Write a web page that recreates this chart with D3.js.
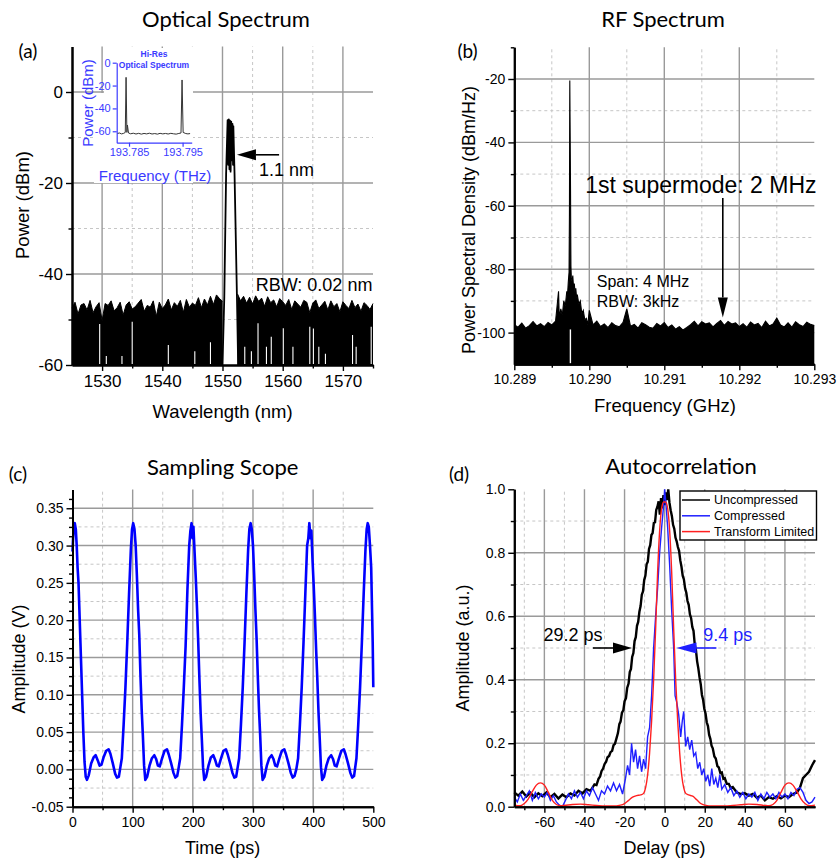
<!DOCTYPE html>
<html>
<head>
<meta charset="utf-8">
<script src="https://cdn.jsdelivr.net/npm/d3@7"></script>
<style>body{margin:0;background:#fff}</style>
</head>
<body>
<svg id="fig" width="838" height="861"></svg>
<script>
// ---------- (a) optical spectrum ----------
const optLeftWl = [1525,1525.5,1526,1526.5,1527,1527.5,1528,1528.5,1529,1529.5,1530,1530.5,1531,1531.5,1532,1532.5,1533,1533.5,1534,1534.5,1535,1535.5,1536,1536.5,1537,1537.5,1538,1538.5,1539,1539.5,1540,1540.5,1541,1541.5,1542,1542.5,1543,1543.5,1544,1544.5,1545,1545.5,1546,1546.5,1547,1547.5,1548,1548.5,1549,1549.5,1550];
const optLeftPw = [-47.5,-46.2,-48.8,-46.8,-46.5,-47.9,-45.8,-48.5,-47.2,-46.3,-50.2,-46.5,-46.9,-45.9,-48.1,-47.4,-46.2,-49,-46.8,-46.1,-47.7,-47.2,-46.4,-45.6,-48.2,-46.9,-47.3,-45.9,-49.3,-46.2,-47.6,-46.8,-45.5,-47.9,-46.3,-47.1,-45.8,-48.4,-45.6,-47.3,-46.4,-46.9,-45.2,-47.4,-45.5,-46.8,-44.9,-46.7,-44.6,-45.4,-46];
const optRightWl = [1552.5,1553,1553.5,1554,1554.5,1555,1555.5,1556,1556.5,1557,1557.5,1558,1558.5,1559,1559.5,1560,1560.5,1561,1561.5,1562,1562.5,1563,1563.5,1564,1564.5,1565,1565.5,1566,1566.5,1567,1567.5,1568,1568.5,1569,1569.5,1570,1570.5,1571,1571.5,1572,1572.5,1573,1573.5,1574,1574.5,1575];
const optRightPw = [-44.4,-45.9,-44.9,-46.4,-45.1,-46.6,-44.8,-46,-45.3,-47.1,-45,-46.3,-45.7,-47.2,-45.4,-46.1,-46.9,-45.6,-47.8,-45.9,-46.6,-47.3,-45.8,-46.2,-48.5,-46.4,-45.7,-47.6,-46.8,-46,-47.9,-45.9,-47.2,-46.5,-48.3,-46.1,-46.9,-47.6,-45.8,-47.4,-46.6,-48.2,-46.3,-46.9,-47.8,-46.5];
const peakWl = [1550.0,1550.3,1550.6,1550.85,1550.95,1551.05,1551.15,1551.25,1551.35,1551.45,1551.55,1551.65,1551.75,1551.8,1552.0,1552.4,1552.6];
const peakPw = [-60,-45,-18,-6.2,-16,-6,-17,-6.3,-17.5,-6.5,-15,-7,-16,-7.5,-18,-45,-60];
const dropWl = [1529.6,1530.7,1533.3,1535,1541,1545.4,1548,1553.7,1554.8,1555.9,1557.3,1558.1,1560.1,1561.7,1564.5,1565.1,1566,1567.1,1571.6,1572.2,1574.7];
const dropPw = [-51,-58,-58,-50.5,-55.6,-57,-55,-56,-57,-50.8,-56,-53.8,-51.9,-56,-51.6,-52,-56,-57.5,-53.4,-56,-51.6];
const insetFreq = [193.7828,193.7832,193.7836,193.784,193.7843,193.78445,193.7846,193.7847,193.7849,193.7853,193.7858,193.7863,193.7868,193.7873,193.7878,193.7883,193.7888,193.7893,193.7898,193.7903,193.7908,193.7913,193.7918,193.7923,193.7928,193.7933,193.7938,193.7943,193.7947,193.7949,193.7951,193.7956,193.796,193.7964];
const insetPw = [-62,-61.5,-62.3,-61.8,-61,-12.8,-61,-54.5,-61.5,-62.2,-61.7,-62.4,-61.8,-62.5,-61.9,-62.3,-61.7,-62.4,-62,-62.5,-61.8,-62.3,-61.9,-62.4,-61.8,-62.2,-62.5,-61.9,-61.5,-15.1,-61,-62,-62.3,-62];

// ---------- (b) RF spectrum ----------
const rfFreq = [10.28900,10.28905,10.28910,10.28915,10.28920,10.28925,10.28930,10.28935,10.28940,10.28945,10.28950,10.28955,10.28959,10.28960,
  10.28962,10.28964,10.28966,10.28968,10.28970,10.28971,10.28972,10.28973,10.289735,10.28974,10.289745,10.28975,10.289755,10.28976,10.28977,10.28978,10.28979,10.28980,10.28981,10.28982,10.28983,10.28984,10.28986,10.28988,10.28990,10.28992,10.28994,10.28996,10.28998,
  10.29000,10.29005,10.29010,10.29015,10.29020,10.29025,10.29030,10.29035,10.29040,10.29045,10.29050,10.29055,10.29060,10.29065,10.29070,10.29075,10.29080,10.29085,10.29090,10.29095,
  10.29100,10.29105,10.29110,10.29115,10.29120,10.29125,10.29130,10.29135,10.29140,10.29145,10.29150,10.29155,10.29160,10.29165,10.29170,10.29175,10.29180,10.29185,10.29190,10.29195,
  10.29200,10.29205,10.29210,10.29215,10.29220,10.29225,10.29230,10.29235,10.29240,10.29245,10.29250,10.29255,10.29260,10.29265,10.29270,10.29275,10.29280,10.29285,10.29290,10.29295,10.29300];
const rfPsd = [-97.5,-98.3,-97,-98.6,-97.8,-96.5,-97.9,-97.2,-98.1,-96.8,-97.6,-96.4,-87,-95.5,
  -92.5,-94.5,-90,-91.5,-87,-88,-84,-81,-63,-20.5,-39,-56,-79,-82.5,-84,-82,-86,-84.5,-87.5,-86,-89,-88,-91,-90,-94,-93,-96,-95.5,-97.5,
  -93,-97.6,-96.4,-98.1,-97.3,-98.4,-96.9,-97.8,-98.2,-96.8,-92.5,-98,-97.4,-98.6,-96.9,-97.5,-98.3,-98.6,-97.1,-97.9,
  -96.8,-98.4,-97.6,-98.9,-98.1,-99.2,-98.4,-97.5,-96.4,-97.9,-96.6,-97.3,-96.9,-98.2,-97.1,-96.2,-97.7,-96.5,-97.3,-96.9,
  -98.1,-97.2,-98.3,-96.7,-97.6,-97.1,-98.4,-96.4,-97.9,-97.3,-95.4,-97.6,-98.2,-96.9,-98.3,-96.6,-97.5,-98.1,-96.7,-97.4,-97.8];

// ---------- (c) sampling scope ----------
const scope = [
  [0,0.292],[1,0.31],[2.5,0.325],[3.8,0.33],[5.5,0.322],[7,0.30],[8.5,0.27],[10,0.25],[12,0.20],[14,0.15],[16,0.10],[18,0.05],[20,0.01],[22,-0.01],[24,-0.014],[27,-0.008],[31,0.008],[35,0.016],[38.5,0.019],[42,0.012],[45,0.005],[48,0.006],[52,0.017],[56,0.025],[60,0.027],[63,0.021],[67,0.008],[71,-0.006],[74,-0.011],[77,-0.01],
  [79,0.0],[82,0.015],[85,0.06],[88,0.11],[91,0.17],[94,0.235],[97,0.295],[99,0.322],[100.9,0.33],[103,0.322],[105,0.30],[107,0.26],[109,0.215],[111,0.18],[113,0.125],[115,0.08],[117,0.045],[119,0.005],[121,-0.014],[124,-0.01],[128,0.005],[132,0.015],[136,0.019],[139,0.014],[142,0.005],[145,0.004],[149,0.015],[153,0.025],[157,0.027],[160,0.02],[164,0.008],[168,-0.005],[171,-0.011],[174,-0.009],
  [176,0.0],[179,0.015],[182,0.06],[185,0.11],[188,0.165],[191,0.24],[194,0.30],[196,0.32],[197.9,0.33],[199.5,0.31],[201,0.325],[203,0.29],[205,0.255],[207,0.215],[209,0.17],[211,0.12],[213,0.075],[215,0.04],[217,0.003],[219,-0.014],[222,-0.01],[226,0.005],[230,0.016],[234,0.019],[237,0.013],[240,0.005],[243,0.004],[247,0.015],[251,0.025],[255,0.027],[258,0.02],[262,0.008],[266,-0.005],[269,-0.011],[272,-0.01],
  [274,0.0],[277,0.015],[280,0.06],[283,0.11],[286,0.17],[289,0.235],[292,0.295],[294,0.322],[296.1,0.33],[298,0.322],[300,0.30],[302,0.26],[304,0.215],[306,0.175],[308,0.125],[310,0.08],[312,0.045],[314,0.005],[316,-0.014],[319,-0.01],[323,0.005],[327,0.015],[331,0.019],[334,0.014],[337,0.005],[340,0.004],[344,0.015],[348,0.025],[352,0.027],[355,0.02],[359,0.008],[363,-0.005],[366,-0.011],[369,-0.009],
  [372,0.0],[375,0.015],[378,0.06],[381,0.11],[384,0.17],[387,0.235],[390,0.30],[392,0.31],[393.7,0.33],[395.5,0.31],[397,0.32],[399,0.28],[401,0.245],[403,0.205],[405,0.16],[407,0.12],[409,0.075],[411,0.04],[413,0.003],[415,-0.014],[418,-0.01],[422,0.005],[426,0.015],[430,0.019],[433,0.014],[436,0.005],[439,0.004],[443,0.015],[447,0.025],[451,0.027],[454,0.02],[458,0.008],[462,-0.005],[465,-0.011],[468,-0.009],
  [469.5,0.0],[472,0.015],[475,0.06],[478,0.11],[481,0.17],[484,0.235],[487,0.295],[489,0.322],[490.7,0.33],[492.5,0.325],[494.5,0.30],[496.5,0.27],[498,0.21],[499,0.17],[500,0.11]
];

// ---------- (d) autocorrelation ----------
const uncompressed = [[-75,0.045],[-73,0.035],[-71,0.048],[-69,0.032],[-67,0.044],[-65,0.03],[-63,0.042],[-61,0.033],[-59,0.045],[-57,0.03],[-55,0.04],[-53,0.026],[-51,0.038],[-49,0.03],[-47,0.042],[-45,0.035],[-43,0.05],[-41,0.042],[-39,0.055],[-37,0.05],
  [-35,0.07],[-34,0.068],[-33,0.088],[-32.2,0.095],[-31.5,0.112],[-30.7,0.12],[-30,0.134],[-29.2,0.142],[-28.5,0.156],[-27.7,0.16],[-27,0.172],[-26.2,0.176],[-25.5,0.194],[-24.8,0.198],[-24,0.216],[-23.3,0.232],[-22.6,0.26],[-22,0.268],[-21.3,0.296],[-20.6,0.304],[-20,0.332],[-19.3,0.342],[-18.7,0.374],[-18,0.388],[-17.4,0.424],[-16.8,0.434],[-16.2,0.472],[-15.6,0.484],[-15,0.522],[-14.4,0.534],[-13.8,0.57],[-13.2,0.582],[-12.6,0.614],[-12,0.632],[-11.4,0.668],[-10.8,0.678],[-10.2,0.714],[-9.6,0.728],[-9,0.764],[-8.4,0.772],[-7.8,0.812],[-7.2,0.824],[-6.6,0.856],[-6,0.862],[-5.4,0.894],[-4.8,0.896],[-4.2,0.935],[-3.6,0.945],[-3,0.962],[-2.4,0.92],[-1.8,0.972],[-1.2,0.94],[-0.6,0.982],[0,0.95],[0.6,0.99],[1.2,0.966],[1.8,1.0],[2.4,0.958],[3,0.934],[3.6,0.916],[4.2,0.888],[4.8,0.876],[5.4,0.848],[6,0.836],[6.6,0.818],[7.2,0.806],[7.8,0.776],[8.4,0.756],[9,0.728],[9.6,0.716],[10.2,0.688],[10.8,0.674],[11.4,0.648],[12,0.636],[12.6,0.606],[13.2,0.594],[13.8,0.566],[14.4,0.554],[15,0.512],[15.6,0.494],[16.2,0.458],[16.8,0.436],[17.4,0.408],[18,0.386],[18.6,0.352],[19.2,0.336],[19.8,0.308],[20.4,0.294],[21,0.266],[21.6,0.254],[22.2,0.226],[22.8,0.214],[23.4,0.192],[24,0.184],[24.8,0.158],[25.5,0.152],[26.3,0.128],[27,0.124],[27.8,0.106],[28.5,0.108],[29.3,0.088],[30,0.09],[31,0.072],[32,0.072],[33,0.058],[34,0.062],
  [36,0.045],[38,0.04],[40,0.042],[42,0.035],[44,0.04],[46,0.028],[48,0.035],[50,0.02],[52,0.03],[54,0.025],[56,0.033],[58,0.026],[60,0.035],[62,0.03],[64,0.04],[66,0.045],[67.5,0.06],[69,0.09],[70.5,0.1],[72,0.11],[73.5,0.13],[75,0.147]];
const compressed = [[-75,0.03],[-73.5,0.015],[-72,0.04],[-70.5,0.02],[-69,0.035],[-67.5,0.05],[-66,0.02],[-64.5,0.045],[-63,0.025],[-61.5,0.04],[-60,0.03],[-58.5,0.045],[-57,0.02],[-55.5,0.035],[-54,0.015],[-52.5,0.005],[-51,0.0],[-49.5,0.02],[-48,0.04],[-46.5,0.025],[-45,0.05],[-43.5,0.03],[-42,0.045],[-40.5,0.025],[-39,0.05],[-37.5,0.035],[-36,0.06],[-34.5,0.04],[-33,0.02],[-31.5,0.05],[-30,0.04],[-28.5,0.065],[-27,0.05],[-25.5,0.075],[-24,0.05],[-22.5,0.07],[-21,0.04],[-19.5,0.09],[-18.5,0.13],[-17.5,0.1],[-16.5,0.2],[-15.5,0.14],[-14.5,0.18],[-13.5,0.12],[-12.5,0.16],[-11.5,0.11],[-10.5,0.15],[-9.5,0.12],[-8.5,0.22],[-7.5,0.25],[-6.5,0.35],[-5.5,0.5],[-4.5,0.6],[-3.5,0.69],[-2.5,0.8],[-1.5,0.88],[-0.5,0.95],[0,1.0],[0.7,0.95],[1.5,0.88],[2.5,0.76],[3.5,0.62],[4.5,0.5],[5.2,0.35],[6,0.33],[7,0.29],[8,0.22],[8.8,0.27],[9.5,0.3],[10.5,0.19],[11.5,0.22],[12.5,0.18],[13.5,0.21],[14.5,0.16],[15.5,0.17],[16.5,0.12],[17.5,0.14],[18.5,0.1],[19.5,0.12],[20.5,0.08],[21.5,0.1],[22.5,0.065],[23.5,0.12],[24.5,0.07],[25.5,0.09],[26.5,0.06],[27.5,0.1],[28.5,0.055],[30,0.07],[31.5,0.045],[33,0.06],[34.5,0.035],[36,0.05],[37.5,0.03],[39,0.045],[40.5,0.025],[42,0.04],[43.5,0.03],[45,0.045],[46.5,0.02],[48,0.04],[49.5,0.025],[51,0.045],[52.5,0.03],[54,0.04],[55.5,0.025],[57,0.045],[58.5,0.03],[60,0.04],[61.5,0.025],[63,0.045],[64.5,0.035],[66,0.055],[67.5,0.06],[69,0.045],[70.5,0.02],[72,0.01],[73.5,0.015],[75,0.03]];
const transformLimited = [[-75,0.005],[-72,0.003],[-70,0.01],[-68,0.025],[-66,0.048],[-64,0.068],[-62,0.075],[-60,0.068],[-58,0.045],[-56,0.02],[-54,0.007],[-52,0.003],[-50,0.004],[-46,0.007],[-42,0.008],[-38,0.006],[-34,0.004],[-30,0.002],[-26,0.002],[-22,0.005],[-20,0.01],[-18,0.02],[-16,0.03],[-14,0.035],[-12,0.037],[-10.5,0.042],[-9.5,0.06],[-8.5,0.1],[-7.5,0.17],[-6.5,0.27],[-5.5,0.4],[-4.5,0.56],[-3.5,0.74],[-2.5,0.87],[-1.5,0.94],[-0.5,0.96],[0.5,0.96],[1.5,0.94],[2.5,0.87],[3.5,0.74],[4.5,0.56],[5.5,0.4],[6.5,0.27],[7.5,0.17],[8.5,0.1],[9.5,0.06],[10.5,0.042],[12,0.037],[14,0.033],[16,0.022],[18,0.01],[20,0.005],[24,0.002],[30,0.002],[34,0.004],[38,0.006],[42,0.008],[46,0.007],[50,0.004],[52,0.003],[54,0.007],[56,0.02],[58,0.045],[60,0.068],[62,0.075],[64,0.068],[66,0.048],[68,0.025],[70,0.01],[72,0.003],[75,0.005]];
const legendNames = ['Uncompressed', 'Compressed', 'Transform Limited'];
const legendColors = ['#000000', '#1f1fff', '#ff2020'];

const AX = "'Liberation Sans', Arial, sans-serif";
const TT = "Lato, 'Open Sans', sans-serif";
const svg = d3.select('#fig');

function grid(x, y, xSolid, xDash, ySolid, yDash) {
    const g = svg.append('g');
    const [xa, xb] = x.range(), [ya, yb] = y.range();
    const dash = (sel) => sel.attr('stroke', '#c6c6c6').attr('stroke-width', 1).attr('stroke-dasharray', '3,3');
    const solid = (sel) => sel.attr('stroke', '#9a9a9a').attr('stroke-width', 1.4);
    g.selectAll(null).data(xDash).join('line').attr('x1', d => x(d)).attr('x2', d => x(d)).attr('y1', ya).attr('y2', yb).call(dash);
    g.selectAll(null).data(yDash).join('line').attr('y1', d => y(d)).attr('y2', d => y(d)).attr('x1', xa).attr('x2', xb).call(dash);
    g.selectAll(null).data(xSolid).join('line').attr('x1', d => x(d)).attr('x2', d => x(d)).attr('y1', ya).attr('y2', yb).call(solid);
    g.selectAll(null).data(ySolid).join('line').attr('y1', d => y(d)).attr('y2', d => y(d)).attr('x1', xa).attr('x2', xb).call(solid);
}

function axes(x, y, o) {
    const gl = svg.append('g').attr('transform', `translate(${x.range()[0]},0)`);
    gl.call(d3.axisLeft(y).tickValues(o.yMinor).tickSize(3.5).tickFormat('').tickSizeOuter(0));
    gl.append('g').call(d3.axisLeft(y).tickValues(o.yMajor).tickSize(6).tickPadding(3).tickFormat(o.yFmt).tickSizeOuter(0));
    const gb = svg.append('g').attr('transform', `translate(0,${y.range()[0]})`);
    gb.call(d3.axisBottom(x).tickValues(o.xMinor).tickSize(3.5).tickFormat('').tickSizeOuter(0));
    gb.append('g').call(d3.axisBottom(x).tickValues(o.xMajor).tickSize(6).tickPadding(4).tickFormat(o.xFmt).tickSizeOuter(0));
    for (const g of [gl, gb]) {
        g.selectAll('.domain').attr('stroke-width', 2);
        g.selectAll('.tick line').attr('stroke-width', 1.4);
        g.selectAll('text').attr('font-family', AX).attr('font-size', o.fs).attr('fill', '#000');
    }
}

function label(x, y, txt, o = {}) {
    const t = svg.append('text')
        .attr('x', x).attr('y', y)
        .attr('text-anchor', o.anchor || 'middle')
        .attr('dominant-baseline', 'central')
        .attr('font-family', o.font || AX)
        .attr('font-size', o.fs || 18)
        .attr('font-weight', o.bold ? 'bold' : null)
        .attr('fill', o.color || '#000')
        .text(txt);
    if (o.rotate) t.attr('transform', `rotate(-90,${x},${y})`);
    return t;
}

function arrow(x1, y1, x2, y2, color, len, half) {
    const ang = Math.atan2(y2 - y1, x2 - x1);
    const bx = x2 - len * Math.cos(ang), by = y2 - len * Math.sin(ang);
    svg.append('line').attr('x1', x1).attr('y1', y1).attr('x2', bx).attr('y2', by)
        .attr('stroke', color).attr('stroke-width', 1.6);
    const px = -Math.sin(ang) * half, py = Math.cos(ang) * half;
    svg.append('path')
        .attr('d', `M${x2},${y2}L${bx + px},${by + py}L${bx - px},${by - py}Z`)
        .attr('fill', color);
}

const zip = (a, b) => a.map((d, i) => [d, b[i]]);

// ================= (a) =================
{
    const x = d3.scaleLinear().domain([1525, 1575]).range([72, 373]);
    const y = d3.scaleLinear().domain([-60, 10]).range([365, 46.5]);
    grid(x, y, [1530, 1540, 1550, 1560, 1570], [1535, 1545, 1555, 1565], [-40, -20, 0], [-50, -30, -10]);

    const area = d3.area().x(d => x(d[0])).y0(y(-60)).y1(d => y(d[1]));
    const topLine = d3.line().x(d => x(d[0])).y(d => y(d[1]));
    for (const pts of [zip(optLeftWl, optLeftPw), zip(optRightWl, optRightPw)]) {
        svg.append('path').attr('d', area(pts)).attr('fill', '#000');
        svg.append('path').attr('d', topLine(pts)).attr('fill', 'none').attr('stroke', '#000').attr('stroke-width', 1);
    }
    svg.selectAll(null).data(zip(dropWl, dropPw)).join('line')
        .attr('x1', d => x(d[0])).attr('x2', d => x(d[0]))
        .attr('y1', y(-60) - 1).attr('y2', d => y(d[1]))
        .attr('stroke', '#fff').attr('stroke-width', 1.1);
    svg.append('path').attr('d', topLine(zip(peakWl, peakPw)))
        .attr('fill', 'none').attr('stroke', '#000').attr('stroke-width', 1.8).attr('stroke-linejoin', 'round');

    // inset
    svg.append('rect').attr('x', 104).attr('y', 48).attr('width', 89).attr('height', 135).attr('fill', '#fff');
    svg.append('rect').attr('x', 94).attr('y', 93).attr('width', 12).attr('height', 90).attr('fill', '#fff');
    const ix = d3.scaleLinear().domain([193.7827, 193.7967]).range([116.7, 191.7]);
    const iy = d3.scaleLinear().domain([-70, 0]).range([142.7, 62.7]);
    svg.append('path').attr('d', d3.line().x(d => ix(d[0])).y(d => iy(d[1]))(zip(insetFreq, insetPw)))
        .attr('fill', 'none').attr('stroke', '#333').attr('stroke-width', 1);
    const IB = '#3a3aff';
    const il = svg.append('g').attr('transform', 'translate(116.7,0)')
        .call(d3.axisLeft(iy).tickValues([0, -20, -40, -60]).tickSize(4).tickPadding(2).tickFormat(d => String(d)).tickSizeOuter(0));
    const ib = svg.append('g').attr('transform', 'translate(0,142.7)')
        .call(d3.axisBottom(ix).tickValues([193.785, 193.795]).tickSize(4).tickPadding(2).tickFormat(d => d.toFixed(3)).tickSizeOuter(0));
    for (const g of [il, ib]) {
        g.selectAll('.domain, .tick line').attr('stroke', IB).attr('stroke-width', 1.2);
        g.selectAll('text').attr('fill', IB).attr('font-family', AX).attr('font-size', 11);
    }
    label(154, 53.5, 'Hi-Res', { fs: 8.5, bold: true, color: IB });
    label(154, 64.5, 'Optical Spectrum', { fs: 8.5, bold: true, color: IB });
    label(87.5, 103, 'Power (dBm)', { fs: 15, color: IB, rotate: true });
    label(155, 175, 'Frequency (THz)', { fs: 15, color: IB });

    arrow(x(1559.4), y(-13.8), x(1552.4), y(-13.8), '#000', 19, 5.5);
    svg.append('text').attr('x', x(1556.05)).attr('y', y(-18.5)).attr('font-family', AX).attr('font-size', 18).text('1.1 nm');
    svg.append('text').attr('x', x(1574.9)).attr('y', y(-43.8)).attr('text-anchor', 'end').attr('font-family', AX).attr('font-size', 18).text('RBW: 0.02 nm');

    axes(x, y, {
        yMajor: [-60, -40, -20, 0], yMinor: [-50, -30, -10], yFmt: d => String(d),
        xMajor: [1530, 1540, 1550, 1560, 1570], xMinor: [1535, 1545, 1555, 1565, 1575], xFmt: d => String(d), fs: 17
    });
    label(22, 205, 'Power (dBm)', { rotate: true, fs: 18.5 });
    label(222.5, 411, 'Wavelength (nm)', { fs: 18.5 });
    label(226, 18, 'Optical Spectrum', { font: TT, fs: 22 });
    label(28, 50, '(a)', { font: TT, fs: 19 });
}

// ================= (b) =================
{
    const x = d3.scaleLinear().domain([10.289, 10.293]).range([514.3, 814.3]);
    const y = d3.scaleLinear().domain([-110, -10]).range([364.3, 47.3]);
    grid(x, y, [10.290, 10.291, 10.292], [10.2895, 10.2905, 10.2915, 10.2925], [-100, -80, -60, -40, -20], [-90, -70, -50, -30]);
    const pts = zip(rfFreq, rfPsd);
    svg.append('path').attr('d', d3.area().x(d => x(d[0])).y0(y(-110)).y1(d => y(d[1]))(pts)).attr('fill', '#000');
    svg.append('path').attr('d', d3.line().x(d => x(d[0])).y(d => y(d[1]))(pts))
        .attr('fill', 'none').attr('stroke', '#000').attr('stroke-width', 1.1);
    svg.append('line').attr('x1', x(10.289748)).attr('x2', x(10.289748)).attr('y1', y(-110) - 1).attr('y2', y(-99))
        .attr('stroke', '#fff').attr('stroke-width', 1.4);

    arrow(x(10.29178), y(-57.5), x(10.29178), y(-95.2), '#000', 20, 5);
    svg.append('text').attr('x', x(10.29303)).attr('y', y(-56)).attr('text-anchor', 'end').attr('font-family', AX).attr('font-size', 23).text('1st supermode: 2 MHz');
    svg.append('text').attr('x', x(10.2901)).attr('y', y(-85.7)).attr('font-family', AX).attr('font-size', 16).text('Span: 4 MHz');
    svg.append('text').attr('x', x(10.2901)).attr('y', y(-92)).attr('font-family', AX).attr('font-size', 16).text('RBW: 3kHz');

    axes(x, y, {
        yMajor: [-100, -80, -60, -40, -20], yMinor: [-90, -70, -50, -30, -10], yFmt: d => String(d),
        xMajor: [10.289, 10.290, 10.291, 10.292, 10.293], xMinor: [10.2895, 10.2905, 10.2915, 10.2925], xFmt: d => d.toFixed(3), fs: 14
    });
    label(469, 220, 'Power Spectral Density (dBm/Hz)', { rotate: true });
    label(665, 405, 'Frequency (GHz)', { fs: 18.5 });
    label(663, 18, 'RF Spectrum', { font: TT, fs: 22 });
    label(467.5, 50, '(b)', { font: TT, fs: 19 });
}

// ================= (c) =================
{
    const x = d3.scaleLinear().domain([0, 500]).range([72.5, 373.3]);
    const y = d3.scaleLinear().domain([-0.05, 0.375]).range([806.7, 489.6]);
    grid(x, y, [100, 200, 300, 400], [50, 150, 250, 350, 450],
        [0, 0.05, 0.1, 0.15, 0.2, 0.25, 0.3, 0.35], [-0.025, 0.025, 0.075, 0.125, 0.175, 0.225, 0.275, 0.325]);
    svg.append('path').attr('d', d3.line().x(d => x(d[0])).y(d => y(d[1]))(scope))
        .attr('fill', 'none').attr('stroke', '#0000ff').attr('stroke-width', 2.6).attr('stroke-linejoin', 'round');
    const yMajor = [-0.05, 0, 0.05, 0.1, 0.15, 0.2, 0.25, 0.3, 0.35];
    const yMinor = [];
    for (let v = -0.0375; v < 0.37; v += 0.0125) {
        if (Math.abs(v / 0.05 - Math.round(v / 0.05)) > 0.01) yMinor.push(v);
    }
    axes(x, y, {
        yMajor, yMinor, yFmt: d => d.toFixed(2),
        xMajor: [0, 100, 200, 300, 400, 500], xMinor: [50, 150, 250, 350, 450], xFmt: d => String(d), fs: 14
    });
    label(18.5, 659, 'Amplitude (V)', { rotate: true });
    label(222.7, 848, 'Time (ps)');
    label(222.7, 466.7, 'Sampling Scope', { font: TT, fs: 22 });
    label(18, 473, '(c)', { font: TT, fs: 19 });
}

// ================= (d) =================
{
    const x = d3.scaleLinear().domain([-75, 75]).range([514.3, 815]);
    const y = d3.scaleLinear().domain([0, 1]).range([806.7, 489.3]);
    grid(x, y, [-60, -40, -20, 0, 20, 40, 60], [-70, -50, -30, -10, 10, 30, 50, 70], [0.2, 0.4, 0.6, 0.8], [0.1, 0.3, 0.5, 0.7, 0.9]);
    const line = d3.line().x(d => x(d[0])).y(d => y(d[1]));
    svg.append('path').attr('d', line(uncompressed)).attr('fill', 'none').attr('stroke', legendColors[0]).attr('stroke-width', 2.4);
    svg.append('path').attr('d', line(compressed)).attr('fill', 'none').attr('stroke', legendColors[1]).attr('stroke-width', 1.4);
    svg.append('path').attr('d', line.curve(d3.curveMonotoneX)(transformLimited)).attr('fill', 'none').attr('stroke', legendColors[2]).attr('stroke-width', 1.4);

    arrow(x(-35.8), y(0.5), x(-16.3), y(0.5), '#000', 19, 5.5);
    arrow(x(25.8), y(0.5), x(5.9), y(0.5), legendColors[1], 20, 5.5);
    svg.append('text').attr('x', x(-60.4)).attr('y', y(0.521)).attr('font-family', AX).attr('font-size', 18).text('29.2 ps');
    svg.append('text').attr('x', x(19.2)).attr('y', y(0.521)).attr('font-family', AX).attr('font-size', 18).attr('fill', legendColors[1]).text('9.4 ps');

    // legend
    const lg = svg.append('g').attr('transform', 'translate(680,491)');
    lg.append('rect').attr('width', 136.5).attr('height', 49).attr('fill', '#fff').attr('stroke', '#000').attr('stroke-width', 1.4);
    lg.selectAll(null).data(legendNames).join('line')
        .attr('x1', 2).attr('x2', 30).attr('y1', (d, i) => 9 + i * 15.8).attr('y2', (d, i) => 9 + i * 15.8)
        .attr('stroke', (d, i) => legendColors[i]).attr('stroke-width', 1.5);
    lg.selectAll(null).data(legendNames).join('text')
        .attr('x', 34).attr('y', (d, i) => 9 + i * 15.8).attr('dominant-baseline', 'central')
        .attr('font-family', AX).attr('font-size', 12.5).text(d => d);

    axes(x, y, {
        yMajor: [0, 0.2, 0.4, 0.6, 0.8, 1.0], yMinor: [0.1, 0.3, 0.5, 0.7, 0.9], yFmt: d => d.toFixed(1),
        xMajor: [-60, -40, -20, 0, 20, 40, 60], xMinor: [-70, -50, -30, -10, 10, 30, 50, 70], xFmt: d => String(d), fs: 14
    });
    label(463, 648, 'Amplitude (a.u.)', { rotate: true });
    label(664.5, 848, 'Delay (ps)');
    label(681, 465, 'Autocorrelation', { font: TT, fs: 22 });
    label(459, 473, '(d)', { font: TT, fs: 19 });
}
</script>
</body>
</html>
